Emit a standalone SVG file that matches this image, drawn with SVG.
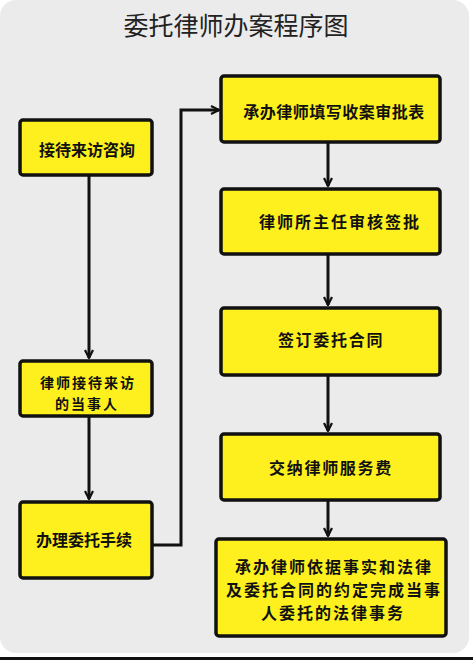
<svg xmlns="http://www.w3.org/2000/svg" width="473" height="660" viewBox="0 0 473 660">
<style>
.box{fill:#fef01f;stroke:#111;stroke-width:3.5}
.t{font-family:"Noto Sans CJK SC","Noto Sans",sans-serif;font-weight:bold;font-size:16px;fill:#111;text-anchor:middle}
.c{fill:none;stroke:#111;stroke-width:3}
</style>
<defs>
<marker id="ar" viewBox="0 0 10 10" refX="9" refY="5" markerWidth="10" markerHeight="10" markerUnits="userSpaceOnUse" orient="auto">
<path d="M1,1 L9,5 L1,9" fill="none" stroke="#111" stroke-width="2.2"/>
</marker>
</defs>
<rect x="0" y="0" width="473" height="660" fill="#ffffff"/>
<rect x="0" y="0" width="469" height="653" rx="16" fill="#ebebeb"/>
<rect x="0" y="657" width="473" height="3" fill="#111"/>
<text x="236" y="35" style="font-family:'Noto Sans CJK SC','Noto Sans',sans-serif;font-size:25px;fill:#222;text-anchor:middle">委托律师办案程序图</text>
<g id="connectors">
<path class="c" d="M89,175 V358" marker-end="url(#ar)"/>
<path class="c" d="M89,416 V499" marker-end="url(#ar)"/>
<path class="c" d="M152,545 H181 V110 H219" marker-end="url(#ar)"/>
<path class="c" d="M328,142 V186" marker-end="url(#ar)"/>
<path class="c" d="M328,254 V305" marker-end="url(#ar)"/>
<path class="c" d="M328,375 V431" marker-end="url(#ar)"/>
<path class="c" d="M328,500 V536" marker-end="url(#ar)"/>
</g>
<g id="n1"><rect class="box" x="20" y="120" width="132" height="55" rx="3"/><text class="t" x="87" y="156">接待来访咨询</text></g>
<g id="n2"><rect class="box" x="20" y="361" width="132" height="55" rx="3"/><text class="t" x="88" y="388" style="font-size:14px;letter-spacing:2px">律师接待来访</text><text class="t" x="87" y="409" style="font-size:14px;letter-spacing:2px">的当事人</text></g>
<g id="n3"><rect class="box" x="20" y="502" width="132" height="76" rx="3"/><text class="t" x="84" y="546">办理委托手续</text></g>
<g id="n4"><rect class="box" x="221" y="76" width="219" height="66" rx="3"/><text class="t" x="334" y="118" style="letter-spacing:0.5px">承办律师填写收案审批表</text></g>
<g id="n5"><rect class="box" x="221" y="189" width="219" height="65" rx="3"/><text class="t" x="340" y="228" style="letter-spacing:2px">律师所主任审核签批</text></g>
<g id="n6"><rect class="box" x="221" y="308" width="219" height="67" rx="3"/><text class="t" x="331" y="346" style="letter-spacing:1.7px">签订委托合同</text></g>
<g id="n7"><rect class="box" x="221" y="434" width="219" height="66" rx="3"/><text class="t" x="331" y="474" style="letter-spacing:1.7px">交纳律师服务费</text></g>
<g id="n8"><rect class="box" x="216" y="539" width="230" height="97" rx="3"/><text class="t" x="334" y="573" style="letter-spacing:2px">承办律师依据事实和法律</text><text class="t" x="334" y="596" style="letter-spacing:2px">及委托合同的约定完成当事</text><text class="t" x="333" y="619" style="letter-spacing:2px">人委托的法律事务</text></g>
</svg>
